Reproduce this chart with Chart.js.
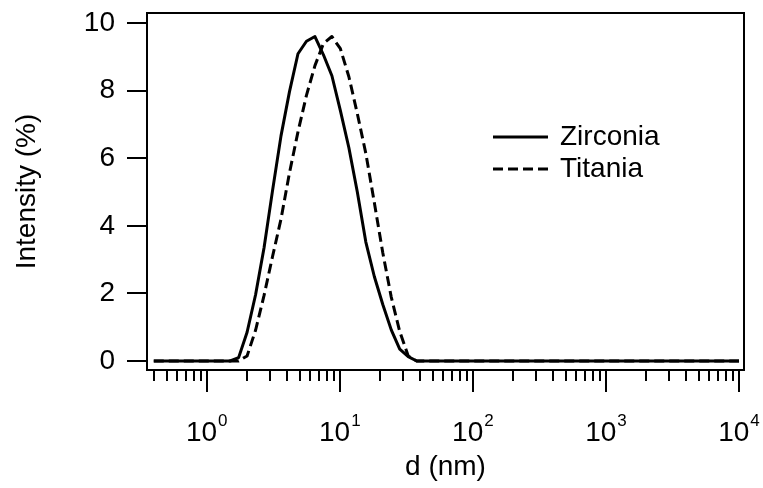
<!DOCTYPE html>
<html>
<head>
<meta charset="utf-8">
<title>Intensity distribution</title>
<script src="https://cdn.jsdelivr.net/npm/chart.js@4.4.1/dist/chart.umd.min.js"></script>
<style>
body{margin:0;background:#fff;}
canvas{display:block;}
</style>
</head>
<body>
<canvas id="myChart" width="763" height="488"></canvas>
<script>
// size classes d (nm)
var sizes=[0.4,0.4632,0.5365,0.6213,0.7195,0.8332,0.9649,1.117,1.294,1.499,
  1.736,2.010,2.328,2.696,3.122,3.615,4.187,4.849,5.615,6.503,
  7.531,8.721,10.10,11.70,13.54,15.69,18.17,21.04,24.36,28.21,
  32.67,37.84,43.82,50.75,58.77,68.06,78.82,91.28,105.7,122.4,
  141.8,164.2,190.1,220.2,255.0,295.3,342.0,396.1,458.7,531.2,
  615.1,712.4,825.0,955.4,1106,1281,1484,1718,1990,2305,
  2669,3091,3580,4145,4801,5560,6439,7456,8635,10000];

// intensity (%)
var zirconia=[0,0,0,0,0,0,0,0,0,0,
  0.1,0.85,1.96,3.35,5.04,6.66,7.97,9.09,9.46,9.6,
  9.06,8.44,7.41,6.31,5.0,3.52,2.5,1.67,0.92,0.35,
  0.13,0,0,0,0,0,0,0,0,0,
  0,0,0,0,0,0,0,0,0,0,
  0,0,0,0,0,0,0,0,0,0,
  0,0,0,0,0,0,0,0,0,0];
var titania=[0,0,0,0,0,0,0,0,0,0,
  0,0.15,0.91,1.94,3.09,4.2,5.57,6.78,7.86,8.74,
  9.39,9.6,9.24,8.41,7.32,6.14,4.69,3.2,1.89,0.87,
  0.15,0,0,0,0,0,0,0,0,0,
  0,0,0,0,0,0,0,0,0,0,
  0,0,0,0,0,0,0,0,0,0,
  0,0,0,0,0,0,0,0,0,0];

var yTicks=[0,2,4,6,8,10];
var xMajor=[1,10,100,1000,10000];

var FONT='"Liberation Sans", Arial, sans-serif';

function toPoints(vals){
  return sizes.map(function(d,i){ return {x:d,y:vals[i]}; });
}

// frame, x ticks with 10^n labels, legend
var framePlugin={
  id:'frame',
  afterDraw:function(chart){
    var ctx=chart.ctx, a=chart.chartArea, xs=chart.scales.x;
    ctx.save();
    ctx.strokeStyle='#000';
    ctx.lineWidth=2;
    ctx.strokeRect(a.left,a.top,a.right-a.left,a.bottom-a.top);

    // minor ticks
    ctx.beginPath();
    for(var k=-1;k<=3;k++){
      for(var m=2;m<=9;m++){
        var v=m*Math.pow(10,k);
        if(v<xs.min||v>xs.max) continue;
        var px=Math.round(xs.getPixelForValue(v));
        ctx.moveTo(px,a.bottom);
        ctx.lineTo(px,a.bottom+11);
      }
    }
    // major ticks
    xMajor.forEach(function(v){
      var px=Math.round(xs.getPixelForValue(v));
      ctx.moveTo(px,a.bottom);
      ctx.lineTo(px,a.bottom+22);
    });
    ctx.stroke();

    ctx.fillStyle='#000';
    ctx.textBaseline='alphabetic';
    ctx.textAlign='left';
    xMajor.forEach(function(v){
      var px=xs.getPixelForValue(v);
      var ex=String(Math.round(Math.log10(v)));
      ctx.font='28px '+FONT;
      var w1=ctx.measureText('10').width;
      ctx.font='17px '+FONT;
      var w2=ctx.measureText(ex).width;
      var x0=px-(w1+w2+1)/2;
      ctx.font='28px '+FONT;
      ctx.fillText('10',x0,a.bottom+71);
      ctx.font='17px '+FONT;
      ctx.fillText(ex,x0+w1+1,a.bottom+56);
    });

    // legend
    ctx.font='28px '+FONT;
    ctx.textBaseline='middle';
    chart.data.datasets.forEach(function(ds,i){
      var y=a.top+124+i*32;
      ctx.beginPath();
      ctx.lineWidth=3;
      ctx.setLineDash(ds.borderDash||[]);
      ctx.moveTo(493,y);
      ctx.lineTo(548,y);
      ctx.stroke();
      ctx.setLineDash([]);
      ctx.fillText(ds.label,560,y);
    });
    ctx.restore();
  }
};

var ctx=document.getElementById('myChart').getContext('2d');
var chart=new Chart(ctx,{
  type:'line',
  data:{
    datasets:[{
      label:'Zirconia',
      data:toPoints(zirconia),
      borderColor:'#000',
      borderWidth:3,
      pointRadius:0,
      borderJoinStyle:'round'
    },{
      label:'Titania',
      data:toPoints(titania),
      borderColor:'#000',
      borderWidth:3,
      borderDash:[10,5],
      pointRadius:0,
      borderJoinStyle:'round'
    }]
  },
  options:{
    responsive:false,
    devicePixelRatio:1,
    animation:false,
    layout:{padding:{left:0,right:19,top:13,bottom:0}},
    plugins:{legend:{display:false},tooltip:{enabled:false}},
    scales:{
      x:{
        type:'logarithmic',
        min:0.3557,
        max:10900,
        afterFit:function(s){ s.height=118; s.paddingLeft=0; s.paddingRight=0; },
        ticks:{display:false},
        grid:{display:false},
        border:{display:false},
        title:{display:true,text:'d (nm)',color:'#000',font:{family:FONT,size:28},padding:{top:0,bottom:4}}
      },
      y:{
        min:-0.2665,
        max:10.296,
        // fixed width, and no extra room for the top label
        afterFit:function(s){ s.width=147; s.paddingTop=0; s.paddingBottom=0; },
        afterBuildTicks:function(s){ s.ticks=yTicks.map(function(v){ return {value:v}; }); },
        ticks:{color:'#000',font:{family:FONT,size:28},padding:12},
        grid:{drawOnChartArea:false,drawTicks:true,tickLength:20,color:'#000',lineWidth:2},
        border:{display:false},
        title:{display:true,text:'Intensity (%)',color:'#000',font:{family:FONT,size:28},padding:{top:10,bottom:0}}
      }
    }
  },
  plugins:[framePlugin]
});
</script>
</body>
</html>
